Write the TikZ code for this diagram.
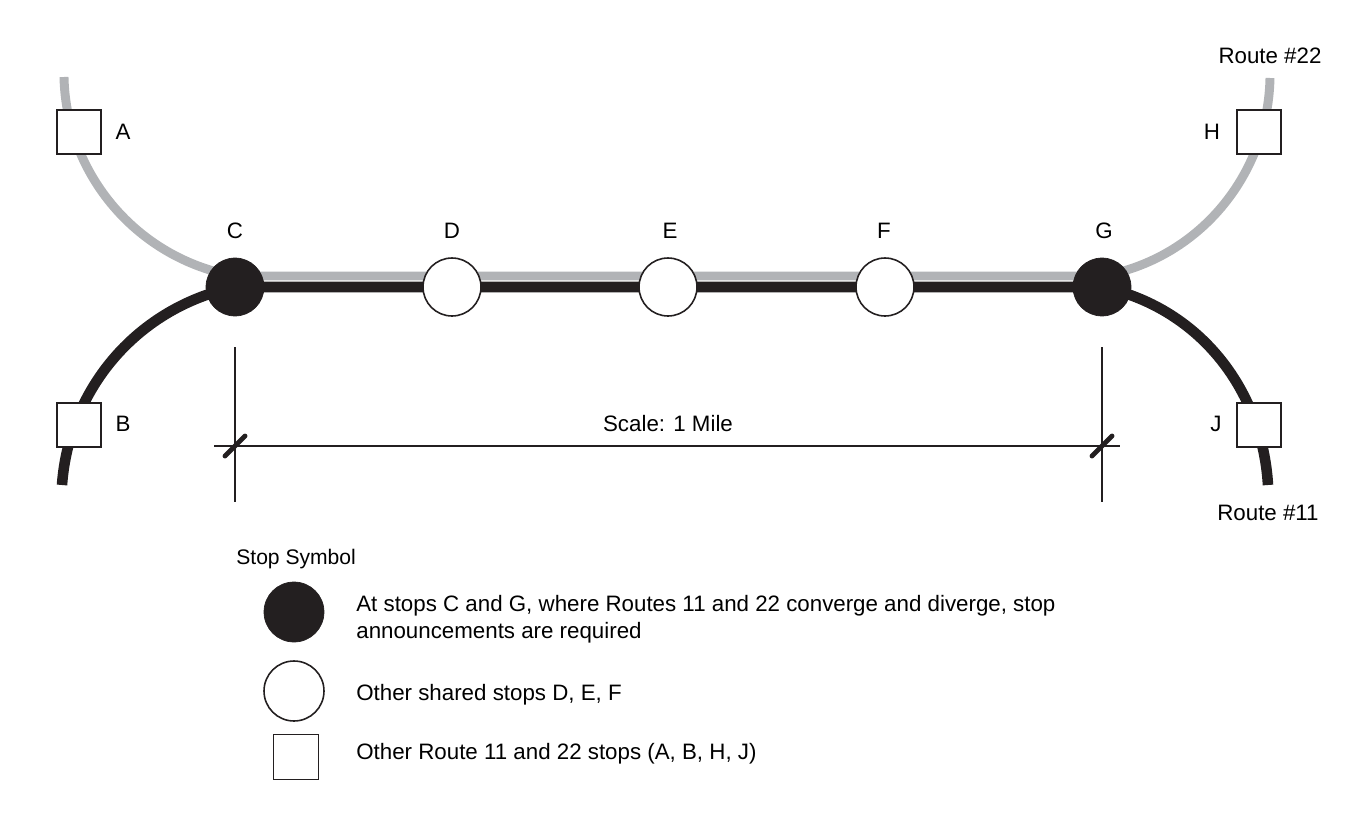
\documentclass[tikz,border=0pt]{standalone}
\usepackage{fontspec}
\setmainfont{Liberation Sans}
\usetikzlibrary{calc,positioning,backgrounds}
\definecolor{routegray}{RGB}{177,179,182}
\definecolor{ink}{RGB}{35,31,32}

\begin{document}
\begin{tikzpicture}[x=0.02cm,y=-0.02cm,
    font=\fontsize{12.7}{15}\selectfont,
    junction/.style={circle,fill=ink,draw=ink,minimum size=1.16cm,inner sep=0pt},
    shared/.style={circle,fill=white,draw=ink,line width=0.9pt,minimum size=1.16cm,inner sep=0pt},
    stopbox/.style={rectangle,fill=white,draw=ink,line width=1.1pt,minimum size=0.88cm,inner sep=0pt},
    route22/.style={draw=routegray,line width=5.1pt},
    route11/.style={draw=ink,line width=6pt},
    dimline/.style={draw=ink,line width=0.8pt},
    tickmark/.style={draw=ink,line width=2.8pt,line cap=round},
    keytext/.style={anchor=base west,inner sep=0pt}]
    \useasboundingbox (0,0) rectangle (1350,815);
    \pgfmathsetmacro{\off}{11}

    % stops along the shared section
    \node[junction] (C) at (235,287) {};
    \node[shared] (D) at (452,287) {};
    \node[shared] (E) at (668,287) {};
    \node[shared] (F) at (885,287) {};
    \node[junction] (G) at (1102,287) {};
    \node[stopbox] (A) at (79,132) {};
    \node[stopbox] (B) at (79,425) {};
    \node[stopbox] (H) at (1259,132) {};
    \node[stopbox] (J) at (1259,425) {};

    \node (Clbl) at (235,231) {C};
    \node (Dlbl) at (452,231) {D};
    \node (Elbl) at (670,231) {E};
    \node (Flbl) at (884,231) {F};
    \node (Glbl) at (1104,231) {G};
    \node (Albl) at (123,132) {A};
    \node (Blbl) at (123,424) {B};
    \node (Hlbl) at (1212,132) {H};
    \node (Jlbl) at (1216,424) {J};
    \node (r22) at (1270,56) {Route \#22};
    \node (r11) at (1268,513) {Route \#11};

    % the two routes
    \coordinate (r22w) at (64,77);
    \coordinate (r22e) at (1270,78);
    \coordinate (r11w) at (62,485);
    \coordinate (r11e) at (1268,485);
    \begin{scope}[on background layer]
    \draw[route22] (r22w) .. controls (66,175) and (138,259) .. ($(C.center)+(0,-\off)$)
        -- ($(G.center)+(0,-\off)$) .. controls (1199,259) and (1268,175) .. (r22e);
    \draw[route11] (r11w) .. controls (69,387) and (139,307) .. (C.center)
        -- (G.center) .. controls (1197,307) and (1262,387) .. (r11e);
    \end{scope}

    % scale bar
    \draw[dimline] ($(C.center)+(0,60)$) -- ($(C.center)+(0,215)$);
    \draw[dimline] ($(G.center)+(0,60)$) -- ($(G.center)+(0,215)$);
    \draw[dimline] ($(C.center)+(-21,159)$) -- ($(G.center)+(18,159)$);
    \draw[tickmark] ($(C.center)+(-10,169)$) -- ($(C.center)+(10,149)$);
    \draw[tickmark] ($(G.center)+(-10,169)$) -- ($(G.center)+(10,149)$);
    \node (scale) at (668,424) {Scale: 1 Mile};

    % legend
    \node[keytext,font=\fontsize{12}{14}\selectfont] (key) at (236,564) {Stop Symbol};
    \node[junction,minimum size=1.2cm] (kJ) at (294,612) {};
    \node[shared,minimum size=1.2cm] (kS) at (294,691) {};
    \node[stopbox,minimum size=0.9cm] (kB) at (296,757) {};
    \node[keytext] (kJtxt) at (356,611) {At stops C and G, where Routes 11 and 22 converge and diverge, stop};
    \node[keytext] (kJtxt2) at (356,638) {announcements are required};
    \node[keytext] (kStxt) at (356,700) {Other shared stops D, E, F};
    \node[keytext] (kBtxt) at (356,759) {Other Route 11 and 22 stops (A, B, H, J)};
\end{tikzpicture}
\end{document}
